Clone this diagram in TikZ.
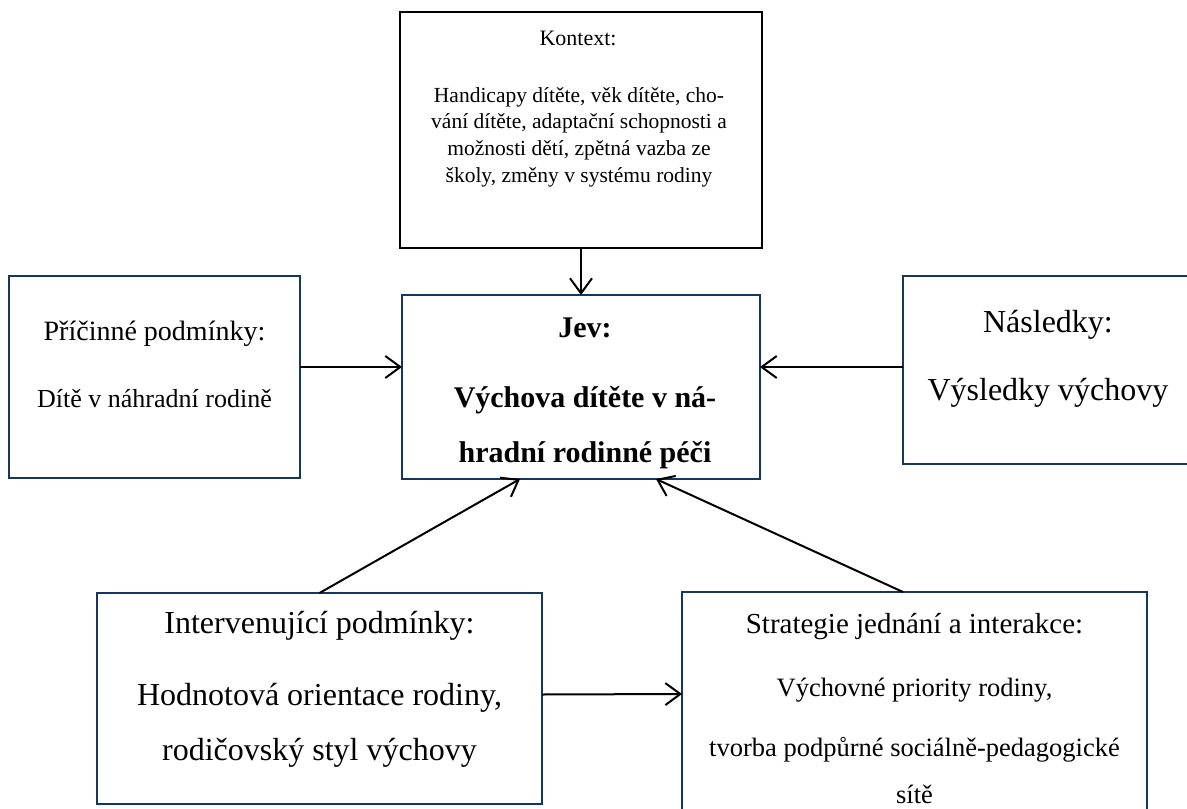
\documentclass[tikz,border=0pt]{standalone}
\usepackage{fontspec}
\setmainfont{Liberation Serif}
\usetikzlibrary{arrows.meta}
\definecolor{navy}{RGB}{23,54,93}
\newcommand\setfs[1]{\fontsize{#1}{#1}\selectfont}
\begin{document}
\begin{tikzpicture}[x=1pt,y=-1pt,
  box/.style={draw=navy,line width=2.6pt,inner sep=0pt,outer sep=0pt},
  kbox/.style={draw=black,line width=2pt,inner sep=0pt,outer sep=0pt},
  txt/.style={anchor=base,inner sep=0pt,outer sep=0pt},
  conn/.style={draw=black,line width=2pt,-{Straight Barb[length=15pt,width=22pt]}},
]
\clip (0,0) rectangle (1187,809);
\fill[white] (0,0) rectangle (1187,809);

% boxes
\node[kbox,minimum width=362pt,minimum height=236pt] (kontext) at (581,130) {};
\node[box,minimum width=291pt,minimum height=202pt] (pricin) at (154.5,377) {};
\node[box,minimum width=358pt,minimum height=184pt] (jev) at (581,387) {};
\node[box,minimum width=290pt,minimum height=188pt] (nasl) at (1048,370) {};
\node[box,minimum width=445pt,minimum height=211pt] (interv) at (319.5,698.5) {};
\node[box,minimum width=465pt,minimum height=238pt] (strat) at (914.5,711) {};

% Kontext text
\node[txt] (k0) at (578,45) {\setfs{22}Kontext:};
\node[txt] (k1) at (579,102) {\setfs{21.5}Handicapy dítěte, věk dítěte, cho-};
\node[txt] (k2) at (579,128.5) {\setfs{21.5}vání dítěte, adaptační schopnosti a};
\node[txt] (k3) at (579,155) {\setfs{21.5}možnosti dětí, zpětná vazba ze};
\node[txt] (k4) at (579,182) {\setfs{21.5}školy, změny v systému rodiny};

% Příčinné
\node[txt] (p0) at (154.5,340) {\setfs{28}Příčinné podmínky:};
\node[txt] (p1) at (154.5,407) {\setfs{26}Dítě v náhradní rodině};

% Jev
\node[txt] (j0) at (585,337) {\setfs{30}\bfseries Jev:};
\node[txt] (j1) at (585,407) {\setfs{30}\bfseries Výchova dítěte v ná-};
\node[txt] (j2) at (585,462) {\setfs{30}\bfseries hradní rodinné péči};

% Následky
\node[txt] (n0) at (1048,332) {\setfs{32}Následky:};
\node[txt] (n1) at (1048,400) {\setfs{32}Výsledky výchovy};

% Intervenující
\node[txt] (i0) at (319.5,633) {\setfs{32}Intervenující podmínky:};
\node[txt] (i1) at (319.5,705) {\setfs{32}Hodnotová orientace rodiny,};
\node[txt] (i2) at (319.5,760) {\setfs{32}rodičovský styl výchovy};

% Strategie
\node[txt] (s0) at (914.5,633) {\setfs{29}Strategie jednání a interakce:};
\node[txt] (s1) at (914.5,696) {\setfs{26.5}Výchovné priority rodiny,};
\node[txt] (s2) at (914.5,756) {\setfs{26.5}tvorba podpůrné sociálně-pedagogické};
\node[txt] (s3) at (914.5,803) {\setfs{26.5}sítě};

% connectors
\draw[conn] (kontext.south) -- (jev.north);
\draw[conn] ([yshift=10pt]pricin.east) -- ([yshift=20pt]jev.west);
\draw[conn] ([yshift=3pt]nasl.west) -- ([yshift=20pt]jev.east);
\draw[conn] (interv.north) -- ([xshift=-61pt]jev.south);
\draw[conn] ([xshift=-11.5pt]strat.north) -- ([xshift=75pt]jev.south);
\draw[conn] ([yshift=4pt]interv.east) -- ([yshift=17pt]strat.west);
\end{tikzpicture}
\end{document}
